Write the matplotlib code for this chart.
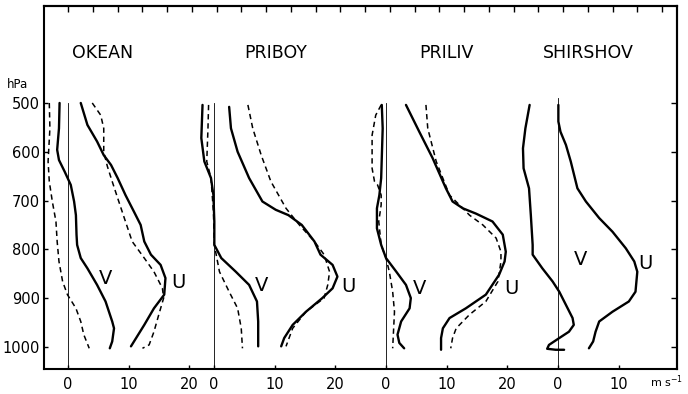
import matplotlib.pyplot as plt
import numpy as np

# station names and x offset of each panel's zero (m/s, relative to first panel)
stations = ['OKEAN', 'PRIBOY', 'PRILIV', 'SHIRSHOV']
offsets = [0.0, 24.13, 52.56, 81.0]
xticks_per_panel = [[0, 10, 20], [0, 10, 20], [0, 10, 20], [0, 10]]
p_levels = [500, 600, 700, 800, 900, 1000]

# ---- OKEAN ----
okean_v_p = [500, 552, 596, 617, 641, 668, 702, 730, 770, 791, 818, 839, 873, 907, 948, 962, 989, 1003]
okean_v = [-1.4, -1.5, -1.8, -1.5, -0.55, 0.45, 1.0, 1.3, 1.4, 1.5, 2.1, 3.2, 4.8, 6.2, 7.3, 7.6, 7.3, 6.9]
okean_v2_p = [500, 552, 620, 661, 702, 743, 784, 825, 866, 893, 921, 948, 975, 1003]
okean_v2 = [-3.1, -3.0, -3.3, -3.1, -2.6, -2.0, -1.8, -1.5, -0.9, -0.1, 1.3, 2.1, 2.6, 3.5]
okean_u_p = [500, 545, 579, 607, 627, 654, 689, 723, 750, 784, 811, 832, 859, 893, 921, 955, 999]
okean_u = [2.1, 3.2, 4.8, 5.9, 7.1, 8.2, 9.5, 10.9, 12.0, 12.6, 13.7, 15.3, 16.1, 15.9, 14.2, 12.6, 10.4]
okean_u2_p = [500, 525, 552, 600, 630, 661, 695, 736, 784, 818, 846, 880, 900, 934, 969, 996, 1003]
okean_u2 = [4.0, 5.4, 5.9, 5.9, 6.5, 7.3, 8.2, 9.3, 10.6, 12.6, 14.2, 15.6, 15.8, 15.0, 14.2, 13.4, 12.3]

# ---- PRIBOY ----
priboy_v_p = [504, 572, 620, 654, 689, 743, 791, 818, 846, 873, 907, 948, 999]
priboy_v = [-1.9, -2.1, -1.6, -0.5, -0.1, 0.05, 0.05, 1.2, 3.6, 5.8, 7.1, 7.3, 7.3]
priboy_v2_p = [504, 552, 620, 654, 723, 791, 846, 887, 921, 962, 1003]
priboy_v2 = [-0.9, -1.0, -1.2, -0.5, -0.1, 0.05, 0.9, 2.5, 3.9, 4.5, 4.7]
priboy_u_p = [508, 552, 600, 654, 702, 719, 730, 750, 784, 811, 832, 856, 880, 900, 928, 955, 982, 999]
priboy_u = [2.5, 2.8, 3.9, 5.8, 8.0, 10.2, 12.3, 14.5, 16.6, 17.6, 19.6, 20.4, 19.6, 17.9, 15.2, 13.0, 11.6, 11.1]
priboy_u2_p = [504, 552, 607, 661, 716, 750, 784, 811, 846, 873, 900, 928, 962, 999]
priboy_u2 = [5.6, 6.4, 7.8, 9.4, 11.9, 14.1, 16.6, 18.2, 19.1, 18.8, 18.2, 15.2, 13.0, 11.9]

# ---- PRILIV ----
priliv_v_p = [504, 552, 654, 689, 716, 757, 791, 818, 846, 873, 900, 921, 948, 975, 992, 1003]
priliv_v = [-0.7, -0.55, -0.8, -1.1, -1.5, -1.5, -0.8, 0.0, 1.7, 3.3, 4.1, 3.9, 2.5, 1.9, 2.2, 3.0]
priliv_v2_p = [504, 525, 566, 634, 661, 668, 689, 709, 743, 791, 818, 846, 887, 928, 1003]
priliv_v2 = [-0.8, -1.7, -2.3, -2.3, -1.9, -1.4, -0.8, -0.8, -1.2, -0.8, 0.0, 0.55, 1.1, 1.4, 1.1]
priliv_u_p = [504, 559, 613, 675, 702, 716, 727, 743, 770, 805, 825, 852, 893, 921, 941, 962, 982, 1006]
priliv_u = [3.3, 5.5, 7.7, 9.9, 11.0, 12.7, 14.9, 17.6, 19.3, 19.8, 19.6, 18.7, 16.5, 13.2, 10.5, 9.4, 9.1, 9.1]
priliv_u2_p = [504, 552, 620, 689, 716, 730, 750, 777, 805, 825, 866, 907, 934, 962, 982, 1003]
priliv_u2 = [6.6, 6.9, 8.3, 10.5, 12.7, 13.8, 16.0, 18.2, 19.0, 19.0, 18.5, 16.5, 13.8, 11.6, 11.0, 10.7]

# ---- SHIRSHOV ----
shirshov_v_p = [504, 552, 593, 634, 675, 730, 791, 811, 839, 866, 887, 914, 941, 955, 969, 982, 996, 1004, 1006, 1006]
shirshov_v = [-4.7, -5.4, -5.8, -5.7, -4.8, -4.5, -4.2, -4.2, -2.6, -0.9, 0.2, 1.3, 2.4, 2.6, 1.8, 0.2, -1.5, -1.8, -0.4, 1.0]
shirshov_u_p = [504, 538, 559, 586, 620, 675, 702, 736, 764, 798, 825, 846, 887, 907, 928, 948, 969, 989, 1003]
shirshov_u = [0.05, 0.05, 0.4, 1.3, 2.1, 3.2, 4.6, 6.8, 9.0, 11.2, 12.6, 13.1, 12.8, 11.7, 9.0, 6.8, 6.2, 5.8, 5.1]

# label positions (value, pressure) for V and U in each panel
v_label = [(6.2, 860), (7.9, 875), (5.6, 880), (3.7, 820)]
u_label = [(18.2, 868), (22.2, 877), (20.8, 880), (14.4, 830)]

solid = dict(color='black', lw=1.7, solid_joinstyle='round', solid_capstyle='round')
dashed = dict(color='black', lw=1.1, dashes=(3.5, 2.5), dash_joinstyle='round')

fig = plt.figure(figsize=(6.88, 3.94), dpi=100)
ax = fig.add_axes([0.064, 0.064, 0.920, 0.921])

curves = [
    (0, okean_v, okean_v_p, solid), (0, okean_v2, okean_v2_p, dashed),
    (0, okean_u, okean_u_p, solid), (0, okean_u2, okean_u2_p, dashed),
    (1, priboy_v, priboy_v_p, solid), (1, priboy_v2, priboy_v2_p, dashed),
    (1, priboy_u, priboy_u_p, solid), (1, priboy_u2, priboy_u2_p, dashed),
    (2, priliv_v, priliv_v_p, solid), (2, priliv_v2, priliv_v2_p, dashed),
    (2, priliv_u, priliv_u_p, solid), (2, priliv_u2, priliv_u2_p, dashed),
    (3, shirshov_v, shirshov_v_p, solid), (3, shirshov_u, shirshov_u_p, solid),
]
for i, vals, pres, style in curves:
    ax.plot(np.array(vals) + offsets[i], pres, **style)

# zero lines, titles, V/U labels
for i, name in enumerate(stations):
    top = 490 if i == 3 else 500
    ax.plot([offsets[i], offsets[i]], [top, 1045], color='black', lw=0.6)
    ax.text(offsets[i] + [5.7, 10.2, 10.0, 5.0][i], 398, name, ha='center', va='center',
            fontsize=12.5)
    ax.text(v_label[i][0] + offsets[i], v_label[i][1], 'V', ha='center', va='center', fontsize=14)
    ax.text(u_label[i][0] + offsets[i], u_label[i][1], 'U', ha='center', va='center', fontsize=14)

ax.set_xlim(-3.97, 100.66)
ax.set_ylim(1045, 301)

xt, xl = [], []
for i, ticks in enumerate(xticks_per_panel):
    for t in ticks:
        xt.append(t + offsets[i])
        xl.append(str(t))
ax.set_xticks(xt)
ax.set_xticklabels(xl, fontsize=10.5)
ax.set_yticks(p_levels)
ax.set_yticklabels([str(p) for p in p_levels], fontsize=10.5)
ax.tick_params(axis='both', direction='in', length=3, width=1, pad=3)
ax.tick_params(axis='x', pad=6)

# top ticks and right ticks
sec_top = ax.secondary_xaxis('top')
sec_top.set_xticks(np.linspace(0, 98.2, 25))
sec_top.tick_params(direction='in', length=4, width=1, labeltop=False)
sec_right = ax.secondary_yaxis('right')
sec_right.set_yticks(p_levels)
sec_right.tick_params(direction='in', length=4, width=1, labelright=False)

for s in ax.spines.values():
    s.set_linewidth(1.5)
for s in list(sec_top.spines.values()) + list(sec_right.spines.values()):
    s.set_linewidth(1.5)

fig.text(18 / 688, 1 - 84 / 394, 'hPa', ha='center', va='center', fontsize=8.5)
fig.text(667 / 688, 1 - 382 / 394, 'm s$^{-1}$', ha='center', va='center', fontsize=8)

fig.savefig('out.png', dpi=100)
